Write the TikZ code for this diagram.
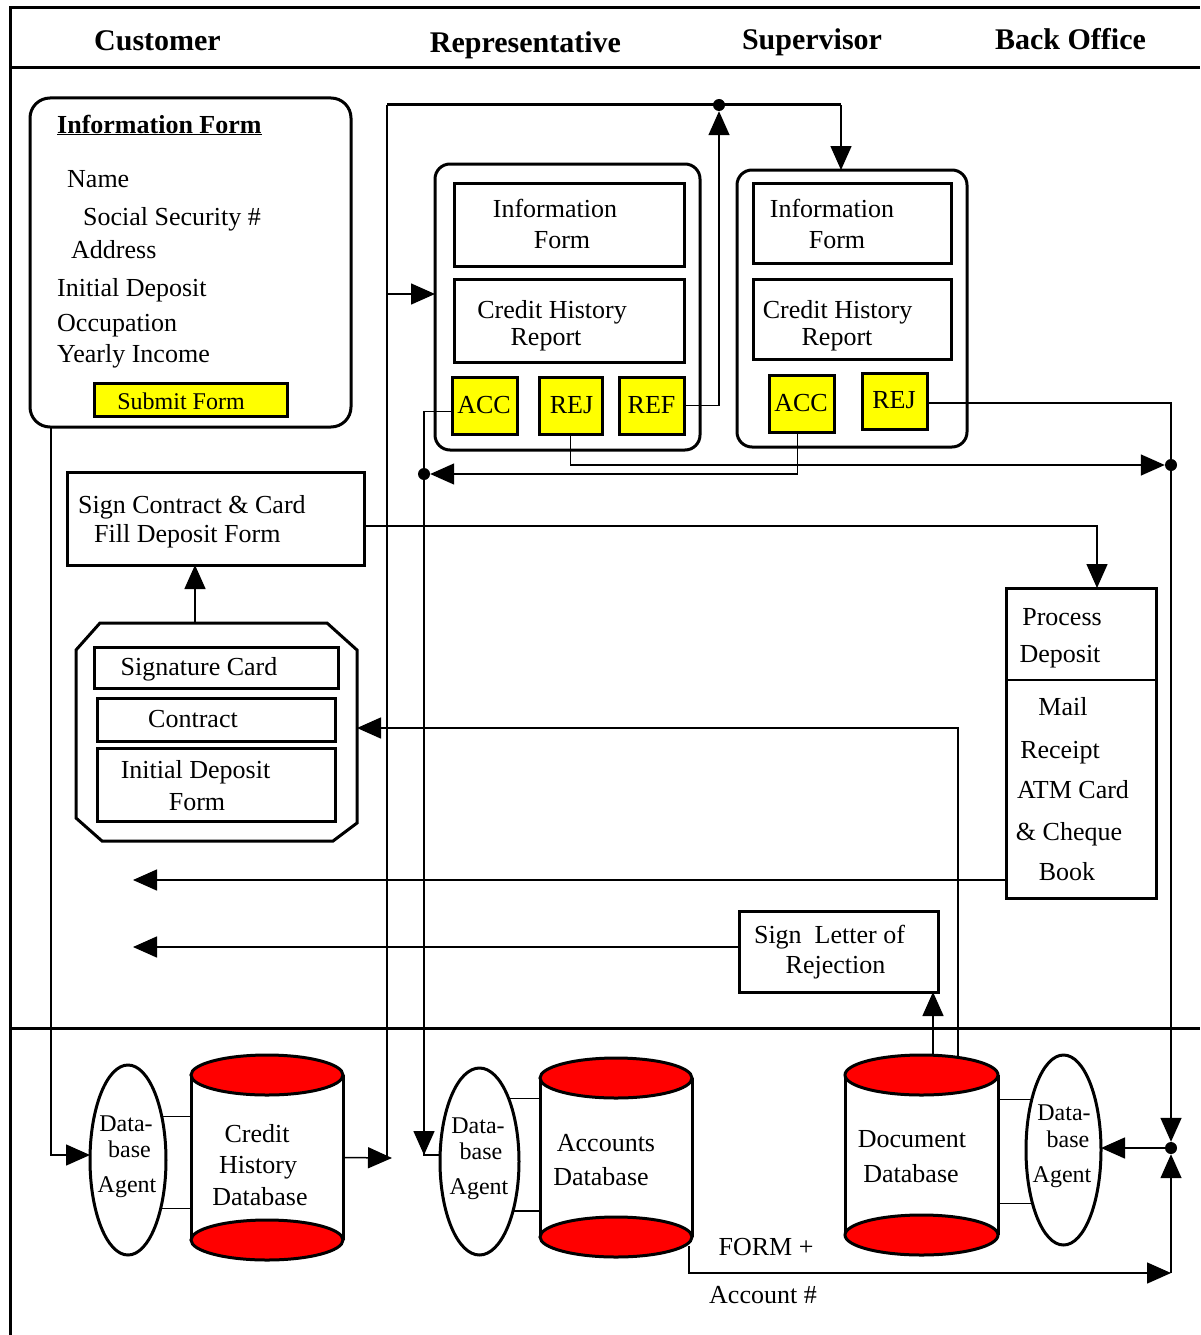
\documentclass[tikz,border=0pt]{standalone}
\usepackage{fontspec}
\setmainfont{Liberation Serif}
\usetikzlibrary{arrows.meta,shapes.geometric,calc}
\newcommand\bodyfs{\fontsize{26}{31}\selectfont}
\newcommand\agentfs{\fontsize{24}{28}\selectfont}
\newcommand\headfs{\fontsize{30}{36}\selectfont\bfseries}
\newcommand\submitfs{\fontsize{24}{28}\selectfont}
\definecolor{boxyellow}{RGB}{255,255,0}
\definecolor{dbred}{RGB}{255,0,0}
\newcommand\cylparts[2]{%
  \draw[cylline] (#1.north west) -- (#1.south west);
  \draw[cylline] (#1.north east) -- (#1.south east);
  \draw[cylline, fill=dbred] (#1.north) ellipse [x radius=#2pt, y radius=20pt];
  \draw[cylline, fill=dbred] (#1.south) ellipse [x radius=#2pt, y radius=20pt];
}
\tikzset{
  frameline/.style={line width=3pt},
  barline/.style={line width=3pt},
  conn/.style={line width=1.5pt},
  arrowed/.style={-{Triangle[length=24pt,width=21pt]}},
  boxn/.style={draw, line width=3pt, inner sep=0pt, outer sep=0pt},
  ghost/.style={inner sep=0pt, outer sep=0pt},
  ybox/.style={boxn, fill=boxyellow},
  rbox/.style={boxn, rounded corners=#1},
  wh/.style 2 args={minimum width=#1pt, minimum height=#2pt, anchor=north west},
  agentn/.style={draw, ellipse, line width=3pt, inner sep=0pt, outer sep=0pt},
  cylline/.style={line width=3pt},
  dotn/.style={circle, fill=black, inner sep=0pt, minimum size=12pt},
  lbl/.style={inner sep=0pt, anchor=base, font=\bodyfs},
  lblw/.style={inner sep=0pt, anchor=base west, font=\bodyfs},
  agentlbl/.style={inner sep=0pt, anchor=base, font=\agentfs},
  hdr/.style={inner sep=0pt, anchor=base, font=\headfs},
}
\begin{document}
\begin{tikzpicture}[x=1pt,y=-1pt]
\useasboundingbox (0,0) rectangle (1200,1335);
\fill[white] (0,0) rectangle (1200,1335);

% ---- frame ----
\draw[frameline] (10,1335) -- (10,8) -- (1200,8);
\draw[frameline] (10,68) -- (1200,68);
\draw[frameline] (10,1028) -- (1200,1028);

% ---- headers ----
\node[hdr] (hCust) at (157.5,51) {Customer};
\node[hdr] (hRep) at (525.5,53) {Representative};
\node[hdr] (hSup) at (812,50) {Supervisor};
\node[hdr] (hBack) at (1070.5,50) {Back Office};

% ---- customer information form ----
\node[rbox=20pt, wh={321}{329}] (infoC) at (30,98) {};
\node[lblw, font=\bodyfs\bfseries] (infoT) at (57,133) {\underline{Information Form}};
\node[lblw] (iName) at (67,187) {Name};
\node[lblw] (iSSN) at (83,225) {Social Security \#};
\node[lblw] (iAddr) at (71,258) {Address};
\node[lblw] (iDep) at (57,296) {Initial Deposit};
\node[lblw] (iOcc) at (57,331) {Occupation};
\node[lblw] (iInc) at (57,362) {Yearly Income};
\node[ybox, wh={193}{33}] (submit) at (94,383) {};
\node[lbl, font=\submitfs] (submitT) at (181,409) {Submit Form};

% ---- representative box ----
\node[rbox=15pt, wh={265}{286}] (repBox) at (435,164) {};
\node[boxn, wh={230}{83}] (repInfo) at (454,183) {};
\node[lbl] at (555,217) {Information};
\node[lbl] at (562,248) {Form};
\node[boxn, wh={230}{83}] (repCred) at (454,279) {};
\node[lbl] at (552,318) {Credit History};
\node[lbl] at (546,345) {Report};
\node[ybox, wh={65}{57}] (accR) at (452,377) {};
\node[lbl] at (484,413) {ACC};
\node[ybox, wh={63}{57}] (rejR) at (539,377) {};
\node[lbl] at (571.5,413) {REJ};
\node[ybox, wh={65}{57}] (refR) at (619,377) {};
\node[lbl] at (651.5,413) {REF};

% ---- supervisor box ----
\node[rbox=15pt, wh={230}{277}] (supBox) at (737,170) {};
\node[boxn, wh={198}{80}] (supInfo) at (753,183) {};
\node[lbl] at (832,217) {Information};
\node[lbl] at (837,248) {Form};
\node[boxn, wh={198}{80}] (supCred) at (753,279) {};
\node[lbl] at (837.5,318) {Credit History};
\node[lbl] at (837,345) {Report};
\node[ybox, wh={65}{57}] (accS) at (769,375) {};
\node[lbl] at (801,411) {ACC};
\node[ybox, wh={65}{56}] (rejS) at (862,373) {};
\node[lbl] at (894,408) {REJ};

% ---- sign contract ----
\node[boxn, wh={297}{93}] (sign) at (67,472) {};
\node[lblw] at (78,513) {Sign Contract \& Card};
\node[lblw] at (94,542) {Fill Deposit Form};

% ---- octagon package ----
\node[ghost, wh={281}{218}] (oct) at (76,623) {};
\draw[line width=3pt] ([xshift=24pt]oct.north west) -- ([xshift=-30pt]oct.north east)
  -- ([yshift=-27pt]oct.north east) -- ([yshift=18pt]oct.south east)
  -- ([xshift=-24pt]oct.south east) -- ([xshift=26pt]oct.south west)
  -- ([yshift=23pt]oct.south west) -- ([yshift=-27pt]oct.north west) -- cycle;
\node[boxn, wh={244}{41}] (sigCard) at (94,647) {};
\node[lbl] at (199,675) {Signature Card};
\node[boxn, wh={238}{43}] (contract) at (97,698) {};
\node[lbl] at (193,727) {Contract};
\node[boxn, wh={238}{73}] (idForm) at (97,748) {};
\node[lbl] at (195.5,778) {Initial Deposit};
\node[lbl] at (197,810) {Form};

% ---- process deposit ----
\node[boxn, wh={150}{310}] (proc) at (1006,588) {};
\coordinate (pdiv) at (0,680);
\draw[conn] (proc.west |- pdiv) -- ([xshift=2pt]proc.east |- pdiv);
\node[lbl] at (1062,625) {Process};
\node[lbl] at (1060,662) {Deposit};
\node[lbl] at (1063,715) {Mail};
\node[lbl] at (1060,758) {Receipt};
\node[lbl] at (1073,798) {ATM Card};
\node[lbl] at (1069,840) {\& Cheque};
\node[lbl] at (1067,880) {Book};

% ---- letter of rejection ----
\node[boxn, wh={199}{81}] (letter) at (739,911) {};
\node[lbl] at (829.5,943) {Sign~ Letter of};
\node[lbl] at (835.5,973) {Rejection};

% ---- databases and agents ----
\node[agentn, minimum width=76pt, minimum height=190pt] (E1) at (128,1160) {};
\node[agentlbl] at (126,1131) {Data-};
\node[agentlbl] at (129.5,1157) {base};
\node[agentlbl] at (127,1192) {Agent};
\node[ghost, wh={152}{165}] (C1) at (191,1075) {};
\cylparts{C1}{76}
\node[lbl] at (257,1142) {Credit};
\node[lbl] at (258,1173) {History};
\node[lbl] at (260,1205) {Database};
\draw[conn] (E1.52) -- (E1.52 -| C1.west);
\draw[conn] (E1.-56) -- (E1.-56 -| C1.west);

\node[agentn, minimum width=79pt, minimum height=187pt] (E2) at (479.5,1161.5) {};
\node[agentlbl] at (478,1133) {Data-};
\node[agentlbl] at (481,1159) {base};
\node[agentlbl] at (479,1194) {Agent};
\node[ghost, wh={152}{159}] (C2) at (540,1078) {};
\cylparts{C2}{76}
\node[lbl] at (606,1151) {Accounts};
\node[lbl] at (601,1185) {Database};
\draw[conn] (E2.65) -- (E2.65 -| C2.west);
\draw[conn] (E2.-56) -- (E2.-56 -| C2.west);

\node[ghost, wh={153}{160}] (C3) at (845,1075) {};
\cylparts{C3}{76.5}
\node[lbl] at (912,1147) {Document};
\node[lbl] at (911,1182) {Database};
\node[agentn, minimum width=75pt, minimum height=190pt] (E4) at (1063.5,1150) {};
\node[agentlbl] at (1064,1120) {Data-};
\node[agentlbl] at (1068,1147) {base};
\node[agentlbl] at (1062,1182) {Agent};
\draw[conn] (E4.122) -- (E4.122 -| C3.east);
\draw[conn] (E4.240) -- (E4.240 -| C3.east);

\node[lbl] at (766,1255) {FORM +};
\node[lbl] at (763,1303) {Account \#};

% ---- junctions ----
\coordinate (jTL) at (387,105);
\coordinate (jTR) at (841,105);
\coordinate (jBL) at (387,1158);
\coordinate (jRep) at (387,294);
\coordinate (e2corner) at (424,1155);
\coordinate (custIn1) at (133,880);
\coordinate (custIn2) at (133,947);
\coordinate (c3a) at (933,1054);
\coordinate (c3b) at (958,1058);
\coordinate (c2o) at (689,1246);
\coordinate (brc) at (1171,1273);

% ---- connectors ----
\draw[barline] (jTL) -- (jTR);
\node[dotn] (dotT) at (719,105) {};
\node[dotn] (dotA) at (424,474) {};
\node[dotn] (dotB) at (1171,465) {};
\node[dotn] (dotC) at (1171,1148) {};

\draw[conn,arrowed] ([xshift=21pt]infoC.south west) |- ([yshift=5pt]E1.west);
\draw[conn,arrowed] (C1.east) -- ([xshift=5pt]jBL);
\draw[conn] (jBL) -- (jTL);
\draw[conn,arrowed] (jRep) -- (jRep -| repBox.west);
\draw[conn,arrowed] (jTR) -- (jTR |- supBox.north);
\draw[conn,arrowed] (refR.east) -| (dotT);

\draw[conn] ([yshift=-6pt]accR.west) -| (e2corner) -- (e2corner -| E2.west);
\draw[conn,arrowed] ([yshift=22pt]e2corner) -- (e2corner);
\draw[conn,arrowed] ([xshift=-4pt]accS.south) |- (dotA);
\draw[conn,arrowed] (rejR.south) |- (dotB);
\draw[conn] ([yshift=-2pt]rejS.east) -| (dotB);
\draw[conn,arrowed] (dotB) -- (dotC);
\draw[conn,arrowed] (dotC) -- (dotC -| E4.east);
\draw[conn,arrowed] (c2o) |- (brc);
\draw[conn,arrowed] (brc) -- (dotC);

\draw[conn,arrowed] ([yshift=-7.5pt]sign.east) -| ([xshift=16pt]proc.north);
\draw[conn,arrowed] ([xshift=-21.5pt]oct.north) -- ([xshift=-21.5pt]oct.north |- sign.south);
\draw[conn,arrowed] (c3b) |- ([yshift=4pt]oct.east);
\draw[conn,arrowed] (c3a) -- (c3a |- letter.south);
\draw[conn,arrowed] (proc.west |- custIn1) -- (custIn1);
\draw[conn,arrowed] (letter.west |- custIn2) -- (custIn2);
\end{tikzpicture}
\end{document}
